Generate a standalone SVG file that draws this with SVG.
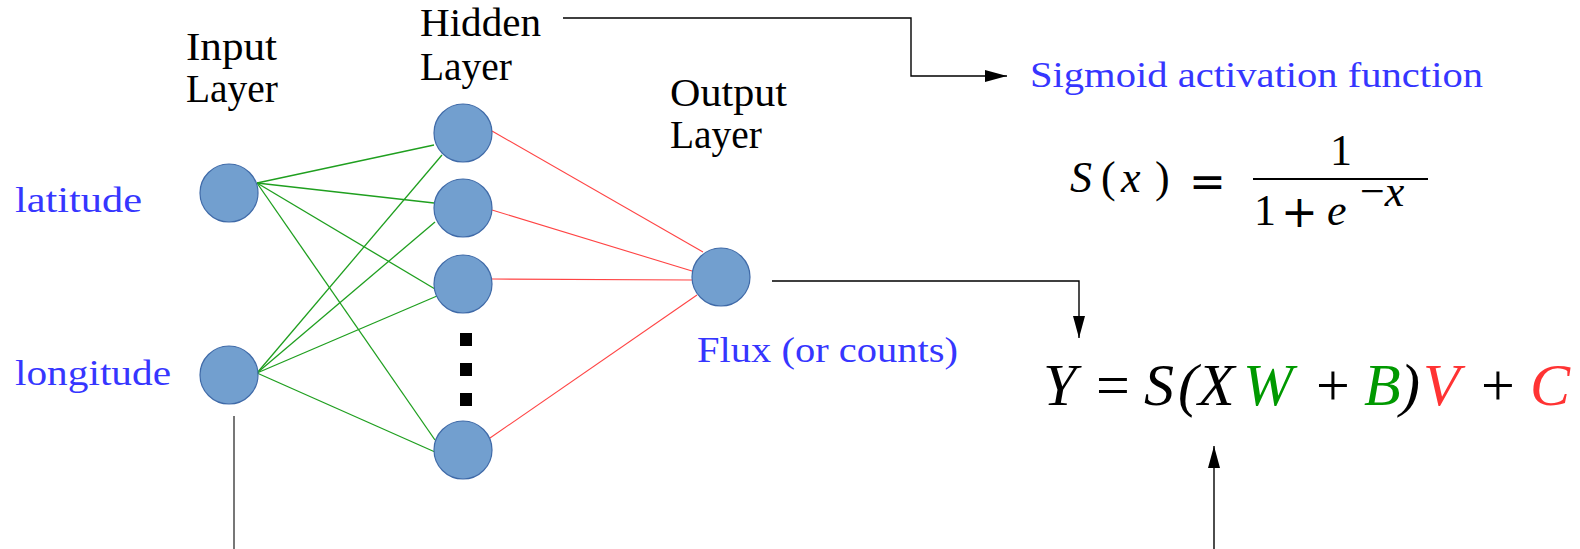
<svg xmlns="http://www.w3.org/2000/svg" width="1580" height="549" viewBox="0 0 1580 549">
<style>
.node{fill:#729fcf;stroke:#3f6aa8;stroke-width:1.2}
.lbl{font-family:"Liberation Serif","Times New Roman",serif;font-size:40px;fill:#000}
.blue{font-family:"Liberation Serif","Times New Roman",serif;font-size:36px;fill:#3636ff}
.g{stroke:#1f9f1f;stroke-width:1.3;fill:none}
.r{stroke:#ff4444;stroke-width:1.1;fill:none}
.conn{stroke:#000;stroke-width:1.4;fill:none}
.eq{font-family:"Liberation Serif","Times New Roman",serif;font-size:60px;fill:#000}
.it{font-style:italic}
.fm{font-family:"Liberation Serif","Times New Roman",serif;font-size:44px;fill:#000}
.op{font-family:"DejaVu Sans",sans-serif;font-size:44px;fill:#000}
</style>
<defs>
<marker id="arr" markerWidth="22" markerHeight="12" refX="22" refY="6" orient="auto" markerUnits="userSpaceOnUse">
<path d="M0,0 L22,6 L0,12 Z" fill="#000"/>
</marker>
</defs>
<rect width="1580" height="549" fill="#fff"/>
<g id="connectors">
<g id="weights-in">
<line class="g" x1="257" y1="183" x2="434" y2="145"/>
<line class="g" x1="257" y1="183" x2="434" y2="203"/>
<line class="g" x1="257" y1="183" x2="435" y2="289"/>
<line class="g" x1="257" y1="183" x2="435" y2="440"/>
<line class="g" x1="257" y1="373" x2="442" y2="155"/>
<line class="g" x1="257" y1="373" x2="435" y2="222"/>
<line class="g" x1="257" y1="373" x2="437" y2="296"/>
<line class="g" x1="257" y1="373" x2="435" y2="452"/>
</g>
<g id="weights-out">
<line class="r" x1="492" y1="131" x2="703" y2="252"/>
<line class="r" x1="492" y1="210" x2="692" y2="271"/>
<line class="r" x1="492" y1="279" x2="692" y2="280"/>
<line class="r" x1="490" y1="438" x2="697" y2="295"/>
</g>
<path class="conn" d="M563,18 H911 V76 H1007" marker-end="url(#arr)"/>
<path class="conn" d="M772,281 H1079 V338" marker-end="url(#arr)"/>
<path d="M234,416 V549" stroke="#555" stroke-width="1.6" fill="none"/>
<path class="conn" d="M1214,549 V446" marker-end="url(#arr)"/>
</g>
<g id="input-layer">
<text class="lbl" x="186" y="60" textLength="91" lengthAdjust="spacingAndGlyphs">Input</text>
<text class="lbl" x="186" y="102" textLength="92" lengthAdjust="spacingAndGlyphs">Layer</text>
</g>
<g id="hidden-layer-label">
<text class="lbl" x="420" y="36" textLength="121" lengthAdjust="spacingAndGlyphs">Hidden</text>
<text class="lbl" x="420" y="80" textLength="92" lengthAdjust="spacingAndGlyphs">Layer</text>
</g>
<g id="output-layer-label">
<text class="lbl" x="670" y="106" textLength="117" lengthAdjust="spacingAndGlyphs">Output</text>
<text class="lbl" x="670" y="148" textLength="92" lengthAdjust="spacingAndGlyphs">Layer</text>
</g>
<g id="in-latitude">
<circle class="node" cx="229" cy="193" r="29"/>
<text class="blue" x="15" y="212" textLength="127" lengthAdjust="spacingAndGlyphs">latitude</text>
</g>
<g id="in-longitude">
<circle class="node" cx="229" cy="375" r="29"/>
<text class="blue" x="15" y="385" textLength="156" lengthAdjust="spacingAndGlyphs">longitude</text>
</g>
<g id="hidden-1"><circle class="node" cx="463" cy="133" r="29"/></g>
<g id="hidden-2"><circle class="node" cx="463" cy="208" r="29"/></g>
<g id="hidden-3"><circle class="node" cx="463" cy="284" r="29"/></g>
<g id="hidden-dots">
<rect x="460" y="333" width="12" height="13" fill="#000"/>
<rect x="460" y="363" width="12" height="13" fill="#000"/>
<rect x="460" y="393" width="12" height="13" fill="#000"/>
</g>
<g id="hidden-n"><circle class="node" cx="463" cy="450" r="29"/></g>
<g id="output">
<circle class="node" cx="721" cy="277" r="29"/>
<text class="blue" x="697" y="362" textLength="261" lengthAdjust="spacingAndGlyphs">Flux (or counts)</text>
</g>
<g id="sigmoid">
<text class="blue" x="1030" y="87" textLength="453" lengthAdjust="spacingAndGlyphs">Sigmoid activation function</text>
<text class="fm"><tspan class="it" x="1070" y="192">S</tspan><tspan x="1101" y="192">(</tspan><tspan class="it" x="1121" y="192">x</tspan><tspan x="1155" y="192">)</tspan></text>
<text class="op" x="1189" y="197">=</text>
<line x1="1253" y1="179" x2="1428" y2="179" stroke="#000" stroke-width="2"/>
<text class="fm" x="1330" y="165">1</text>
<text class="fm" x="1254" y="225">1</text>
<text class="op" x="1281" y="227">+</text>
<text class="fm it" x="1327" y="225">e</text>
<text class="fm" font-size="30" x="1360" y="206">−<tspan class="it">x</tspan></text>
</g>
<g id="equation">
<text class="eq"><tspan class="it" x="1043" y="405">Y</tspan><tspan x="1096" y="405">=</tspan><tspan class="it" x="1144" y="405">S</tspan><tspan class="it" x="1178" y="405">(</tspan><tspan class="it" x="1198" y="405">X</tspan><tspan class="it" x="1243" y="405" fill="#009900">W</tspan><tspan x="1316" y="405">+</tspan><tspan class="it" x="1364" y="405" fill="#009900">B</tspan><tspan class="it" x="1400" y="405">)</tspan><tspan class="it" x="1423" y="405" fill="#ff3333">V</tspan><tspan x="1481" y="405">+</tspan><tspan class="it" x="1530" y="405" fill="#ff3333">C</tspan></text>
</g>
</svg>
